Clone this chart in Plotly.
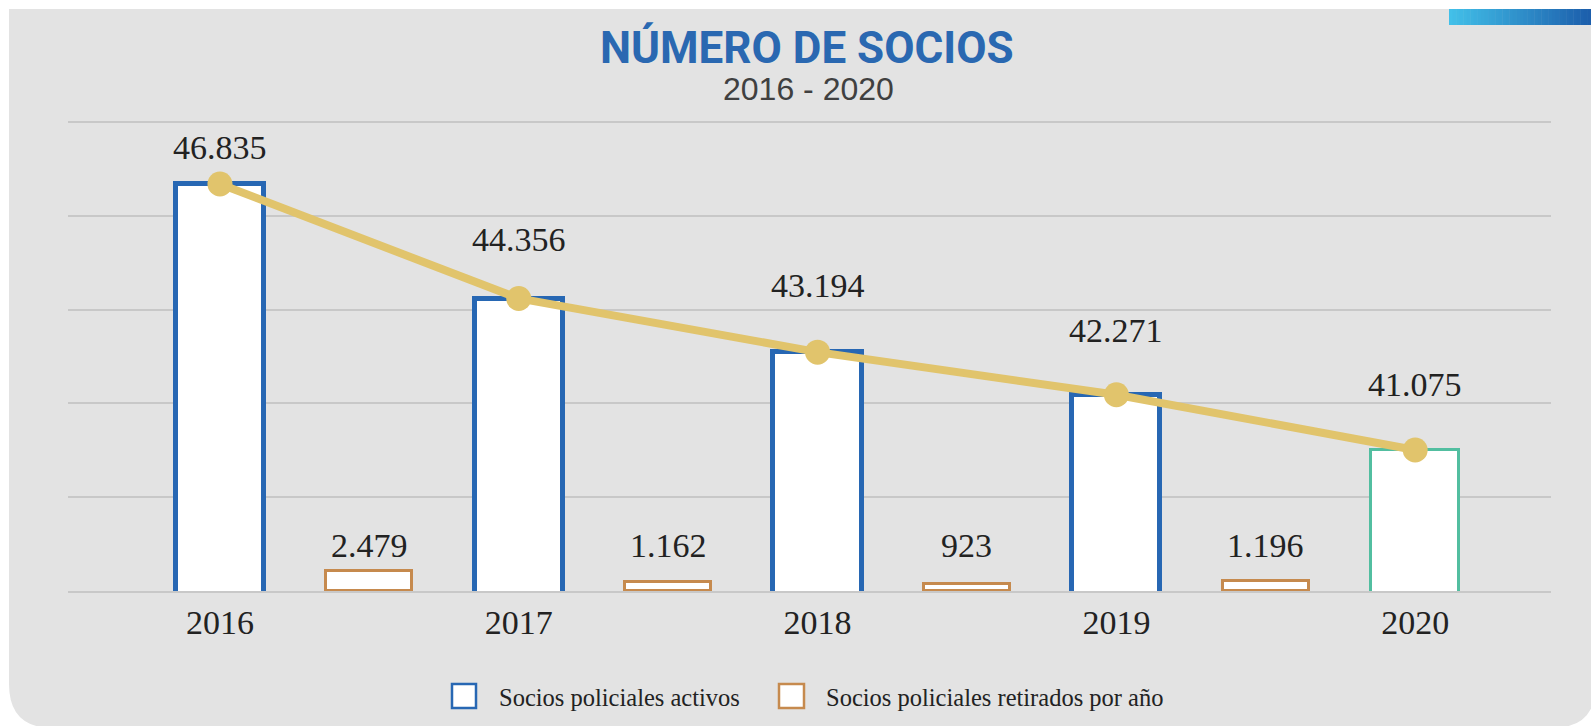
import plotly.graph_objects as go

# ---------------- data ----------------
years = ["2016", "2017", "2018", "2019", "2020"]
socios_activos = [46835, 44356, 43194, 42271, 41075]
socios_retirados = [2479, 1162, 923, 1196]
title_text = "NÚMERO DE SOCIOS"
subtitle_text = "2016 - 2020"
legend_labels = ["Socios policiales activos", "Socios policiales retirados por año"]

# ---------------- styles ----------------
W, H = 1591, 726
L, R, T, B = 68, 1551, 116, 591          # plot area in pixels
GRID_TOP = 122                           # pixel of top gridline
BLUE = "#2767B3"
BROWN = "#C68A4E"
TEAL = "#52BEA0"
GOLD = "#E1C46C"
GRID = "#C8C8C8"
PANEL = "#E3E3E3"
TXT = "#222222"
SERIF = "Liberation Serif"

def px(x):
    return (x - L) / (R - L)

def py(y):
    return (B - y) / (B - T)

def fmt(v):
    return f"{v:,}".replace(",", ".")

act_x = [2 * i for i in range(len(years))]
ret_x = [2 * i + 1 for i in range(len(socios_retirados))]

act_line_colors = [BLUE] * (len(years) - 1) + [TEAL]
act_line_widths = [5] * (len(years) - 1) + [3]
label_shift = [37, 59, 67, 64, 66]

fig = go.Figure()

fig.add_trace(go.Bar(
    x=act_x, y=socios_activos, width=0.59, name=legend_labels[0],
    marker=dict(color="white", line=dict(color=act_line_colors, width=act_line_widths)),
    showlegend=False, hoverinfo="skip",
))
fig.add_trace(go.Scatter(
    x=act_x, y=socios_activos, mode="lines+markers",
    line=dict(color=GOLD, width=8), marker=dict(color=GOLD, size=25),
    showlegend=False, hoverinfo="skip",
))
fig.add_trace(go.Bar(
    x=ret_x, y=socios_retirados, width=0.575, name=legend_labels[1], yaxis="y2",
    marker=dict(color="white", line=dict(color=BROWN, width=3)),
    showlegend=False, hoverinfo="skip",
))

ymin, ymax = 38022, 48178                 # value range between bottom and top gridline
upp = (ymax - ymin) / (B - GRID_TOP)      # units per pixel
y_top = ymax + (GRID_TOP - T) * upp
fig.update_layout(
    width=W, height=H,
    margin=dict(l=L, r=W - R, t=T, b=H - B),
    paper_bgcolor="white", plot_bgcolor="rgba(0,0,0,0)",
    barmode="overlay", bargap=0,
    xaxis=dict(range=[-1.017, 8.909], tickvals=act_x, ticktext=years,
               showgrid=False, zeroline=False, showline=True, linecolor=GRID, linewidth=1.5,
               ticks="", tickfont=dict(family=SERIF, size=34, color=TXT)),
    yaxis=dict(range=[ymin, y_top], tick0=ymin, dtick=(ymax - ymin) / 5,
               showticklabels=False, showgrid=True, gridcolor=GRID, gridwidth=1.5,
               zeroline=False),
    yaxis2=dict(range=[0, 59000 * (B - T) / (B - GRID_TOP)], overlaying="y",
                visible=False, showgrid=False),
)

shapes = []
# panel with rounded bottom corners
r = 44
x0, x1, y0, y1 = 9, 1596, 9, 728
path = (f"M {px(x0)},{py(y0)} L {px(x1)},{py(y0)} L {px(x1)},{py(y1 - r)} "
        f"Q {px(x1)},{py(y1)} {px(x1 - r)},{py(y1)} L {px(x0 + r)},{py(y1)} "
        f"Q {px(x0)},{py(y1)} {px(x0)},{py(y1 - r)} Z")
shapes.append(dict(type="path", path=path, xref="paper", yref="paper",
                   fillcolor=PANEL, line=dict(width=0), layer="below"))

# gradient strip top right
c0 = (0x42, 0xC0, 0xE9)
c1 = (0x1D, 0x5F, 0xAC)
n = 40
gx0, gx1, gy0, gy1 = 1449, 1591, 9, 25
for i in range(n):
    t = i / (n - 1)
    col = "rgb({},{},{})".format(*[int(a + (b - a) * t) for a, b in zip(c0, c1)])
    xa = gx0 + (gx1 - gx0) * i / n
    xb = gx0 + (gx1 - gx0) * (i + 1) / n + 0.5
    shapes.append(dict(type="rect", xref="paper", yref="paper",
                       x0=px(xa), x1=px(xb), y0=py(gy1), y1=py(gy0),
                       fillcolor=col, line=dict(width=0), layer="above"))

# manual legend squares
shapes.append(dict(type="rect", xref="paper", yref="paper",
                   x0=px(452), x1=px(476), y0=py(708), y1=py(684),
                   fillcolor="white", line=dict(color=BLUE, width=2.5)))
shapes.append(dict(type="rect", xref="paper", yref="paper",
                   x0=px(779), x1=px(804), y0=py(708), y1=py(684),
                   fillcolor="white", line=dict(color=BROWN, width=2.5)))
fig.update_layout(shapes=shapes)

ann = []
ann.append(dict(text=f"<b>{title_text}</b>", x=px(807), y=py(48), xref="paper", yref="paper",
                xanchor="center", yanchor="middle", showarrow=False,
                font=dict(family="Roboto", size=44, color="#2A68B1")))
ann.append(dict(text=subtitle_text, x=px(808), y=py(89), xref="paper", yref="paper",
                xanchor="center", yanchor="middle", showarrow=False,
                font=dict(family="Liberation Sans", size=32, color="#404040")))
for xv, v, s in zip(act_x, socios_activos, label_shift):
    ann.append(dict(text=fmt(v), x=xv, y=v, xref="x", yref="y", yshift=s,
                    xanchor="center", yanchor="middle", showarrow=False,
                    font=dict(family=SERIF, size=34, color=TXT)))
for xv, v in zip(ret_x, socios_retirados):
    ann.append(dict(text=fmt(v), x=xv, y=py(545), xref="x", yref="paper",
                    xanchor="center", yanchor="middle", showarrow=False,
                    font=dict(family=SERIF, size=34, color=TXT)))
ann.append(dict(text=legend_labels[0], x=px(497), y=py(697), xref="paper", yref="paper",
                xanchor="left", yanchor="middle", showarrow=False,
                font=dict(family=SERIF, size=24.5, color=TXT)))
ann.append(dict(text=legend_labels[1], x=px(824), y=py(697), xref="paper", yref="paper",
                xanchor="left", yanchor="middle", showarrow=False,
                font=dict(family=SERIF, size=24.5, color=TXT)))
fig.update_layout(annotations=ann)

fig.write_html("out.html", config={"displayModeBar": False},
               post_script="document.body.style.margin='0px';document.body.style.overflow='hidden';")
